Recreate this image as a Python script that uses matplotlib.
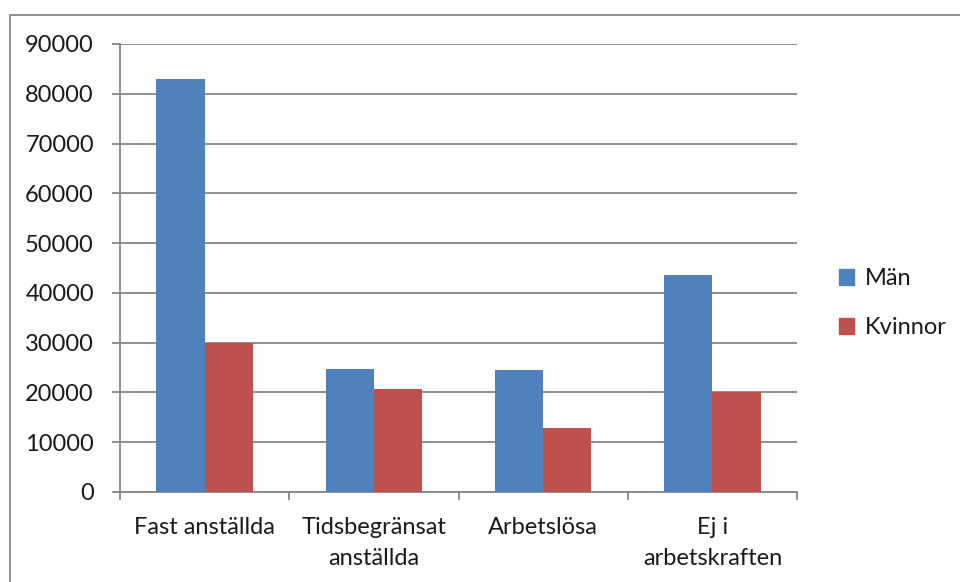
import matplotlib
matplotlib.use("Agg")
import matplotlib.pyplot as plt
import numpy as np
from matplotlib.patches import Rectangle, Patch

categories = ["Fast anställda", "Tidsbegränsat\nanställda", "Arbetslösa", "Ej i\narbetskraften"]
series_names = ["Män", "Kvinnor"]
man = [83000, 24800, 24600, 43600]
kvinnor = [30000, 20700, 12800, 20000]
colors = ["#4F81BD", "#C0504D"]
yticks = [0, 10000, 20000, 30000, 40000, 50000, 60000, 70000, 80000, 90000]

plt.rcParams['font.family'] = ['Lato', 'DejaVu Sans']
fs = 17
gray = "#868686"

fig = plt.figure(figsize=(9.6, 5.82), dpi=100)
ax = fig.add_axes([120/960, 1-492/582, (797-120)/960, (492-44)/582])

x = np.arange(len(categories))
w = 1/3.5
ax.bar(x - w/2, man, width=w, color=colors[0], label=series_names[0], zorder=3)
ax.bar(x + w/2, kvinnor, width=w, color=colors[1], label=series_names[1], zorder=3)

ax.set_xlim(-0.5, len(categories)-0.5)
ax.set_ylim(0, 90000)
ax.set_yticks(yticks)
ax.set_yticklabels([str(v) for v in yticks], fontsize=fs, color="#1a1a1a")
ax.yaxis.grid(True, color=gray, linewidth=1.3, zorder=0)
ax.set_axisbelow(True)

ax.set_xticks(np.arange(len(categories)+1) - 0.5)
ax.set_xticklabels([])
ax.set_xticks(x, minor=True)
ax.set_xticklabels(categories, minor=True, fontsize=fs, linespacing=1.6, color="#1a1a1a")
ax.tick_params(axis='x', which='minor', length=0, pad=18)
ax.tick_params(axis='x', which='major', length=5.8, width=1.3, color=gray)
ax.tick_params(axis='y', length=5.8, width=1.3, color=gray, pad=13)

for s in ['top', 'right']:
    ax.spines[s].set_visible(False)
for s in ['left', 'bottom']:
    ax.spines[s].set_color(gray)
    ax.spines[s].set_linewidth(1.3)

handles = [Patch(color=colors[0]), Patch(color=colors[1])]
leg = fig.legend(handles, series_names, loc='upper left', bbox_to_anchor=(839/960, 1-268/582),
           frameon=False, fontsize=fs, handlelength=0.64, handleheight=0.64,
           handletextpad=0.45, labelspacing=1.2, borderpad=0, borderaxespad=0)
for t in leg.get_texts():
    t.set_color("#1a1a1a")

fig.add_artist(Rectangle((10/960, -10/582), 960/960, (582-15+10)/582, transform=fig.transFigure,
                         fill=False, edgecolor=gray, linewidth=1.3, clip_on=False))

fig.savefig("out.png", dpi=100, facecolor="white")
